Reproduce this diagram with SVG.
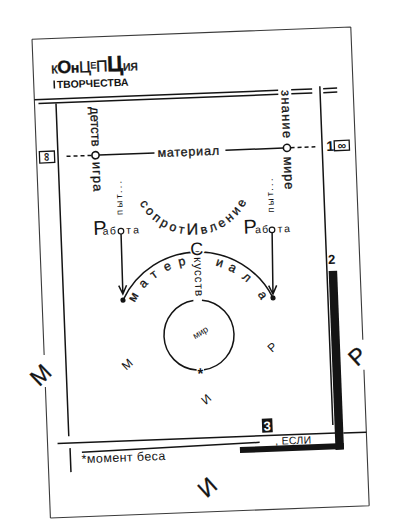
<svg xmlns="http://www.w3.org/2000/svg" width="402" height="531" viewBox="0 0 402 531">
<defs>
<style>
.f{font-family:"Liberation Sans","DejaVu Sans",Arial,sans-serif;fill:#141414}
.hv{stroke:#141414;stroke-width:0.3}
.ln{stroke:#141414;fill:none;stroke-width:1.5}
.pg{stroke:#3a3a3a;fill:none;stroke-width:1.1}
.v{font-size:13px}
.s{font-size:10.5px}
.m{font-size:12.5px}
.big{font-size:23px}
.sm{font-size:12px}
.dot{fill:#141414}
</style>
<path id="arcSopr" d="M136.23,179.27 A60.5,60.5 0 0 0 256.77,179.27"/>
</defs>
<rect width="402" height="531" fill="#fff"/>
<g transform="rotate(-2.2 200 270)">
 <g id="page">
  <path class="pg" d="M41,33H360M41,512H360M41,33V349M41,381V512M360,33V346M360,376V512"/>
  <path class="ln" d="M41,93.5H285M298,93.5H319M330,93.5H344" stroke-width="2"/>
  <path class="ln" d="M45,97.5H285M298,97.5H319M330,97.5H344" stroke-width="1.1"/>
  <path class="ln" d="M62.5,98V431M63.3,443V467M326.8,91V430" stroke-width="1.3"/>
  <path class="ln" d="M51,438H330" stroke-width="3.2"/>
  <path class="ln" d="M337,438.5H360" stroke-width="2"/>
  <rect x="328.5" y="276" width="8.5" height="179" class="dot"/>
  <rect x="233" y="448.5" width="104" height="6" class="dot"/>
  <path class="ln" d="M75,447.5L253,444.5" stroke-width="1.1"/>
 </g>
 <g id="title">
  <text class="f hv" x="59" y="68" letter-spacing="-0.4"><tspan font-size="15">к</tspan><tspan font-size="18" font-weight="bold">О</tspan><tspan font-size="14" font-weight="bold">н</tspan><tspan font-size="16">Ц</tspan><tspan font-size="9" dy="-3.5">Е</tspan><tspan font-size="16" dy="3.5">П</tspan><tspan font-size="22" font-weight="bold">Ц</tspan><tspan font-size="14">ия</tspan></text>
  <path class="ln" d="M61.5,75V83" stroke-width="1.3"/>
  <text class="f" x="64" y="83" font-size="10.5" font-weight="bold">ТВОРЧЕСТВА</text>
 </g>
 <g id="inf-left">
  <rect x="44" y="145.5" width="15" height="11.5" fill="#fff" stroke="#141414" stroke-width="1.3"/>
  <text class="f" font-size="12" font-weight="bold" text-anchor="middle" transform="translate(51.5,151.2) rotate(90)" y="4">∞</text>
 </g>
 <g id="inf-right">
  <text class="f" x="331" y="156" font-size="14" font-weight="bold">1</text>
  <rect x="339" y="146" width="15" height="10" fill="#fff" stroke="#141414" stroke-width="1.3"/>
  <text class="f" x="346.5" y="155" font-size="12" font-weight="bold" text-anchor="middle">∞</text>
 </g>
 <g id="node-detstvo">
  <text class="f v hv" transform="translate(96.6,103) rotate(90)">детств</text>
  <circle cx="100" cy="151.3" r="3.6" fill="#fff" stroke="#141414" stroke-width="1.6"/>
  <text class="f v hv" letter-spacing="1" transform="translate(96.6,158) rotate(90)">игра</text>
 </g>
 <g id="node-znanie">
  <text class="f v hv" letter-spacing="1.2" transform="translate(288,93.5) rotate(90)">знание</text>
  <circle cx="291.6" cy="151.3" r="3.6" fill="#fff" stroke="#141414" stroke-width="1.6"/>
  <text class="f v hv" letter-spacing="0.7" transform="translate(288,160) rotate(90)">мире</text>
 </g>
 <g id="label-material">
  <text class="f hv" x="162" y="155.5" font-size="12.5" letter-spacing="0.8">материал</text>
 </g>
 <g id="node-rabota-left">
  <text class="f" x="95" y="231" font-size="20">Р</text>
  <text class="f s" x="107 114.5 130 137.5" y="231" text-anchor="middle">абта</text>
  <circle cx="122.5" cy="228.2" r="2.8" fill="#fff" stroke="#141414" stroke-width="1.2"/>
  <text class="f" font-size="9.5" letter-spacing="2.2" transform="translate(125,212) rotate(-90)">пыт...</text>
 </g>
 <g id="node-rabota-right">
  <text class="f" x="245" y="235.5" font-size="20">Р</text>
  <text class="f s" x="259.6 266.6 281.6 288.6" y="235.5" text-anchor="middle">абта</text>
  <circle cx="273.5" cy="232.7" r="2.8" fill="#fff" stroke="#141414" stroke-width="1.2"/>
  <text class="f" font-size="9.5" letter-spacing="2.2" transform="translate(276.1,215.5) rotate(-90)">пыт...</text>
 </g>
 <g id="node-soprotivlenie">
  <text class="f hv" font-size="12.5" letter-spacing="3.2"><textPath href="#arcSopr" startOffset="50%" text-anchor="middle">сопрот<tspan font-size="16">И</tspan>вление</textPath></text>
 </g>
 <g id="connectors">
  <path class="ln" d="M103.6,151.3H159M230,151.3H288" stroke-width="1.6"/>
  <path class="ln" d="M71,151.3H96.4M295.2,151.3H320" stroke-width="1.6" stroke-dasharray="4 3"/>
  <path class="ln" d="M122.5,231L122,291M118.2,282.5L122,291L126,282.5" stroke-width="1.2"/>
  <path class="ln" d="M273.5,235.5L272,296.8M268,288.3L272,296.8L276,288.3" stroke-width="1.2"/>
  <path class="ln" d="M121.9,297.1A83.4,83.4 0 0 1 271.9,300.7" stroke-width="2"/>
  <circle cx="121.9" cy="297.1" r="2.6" class="dot"/>
  <circle cx="271.9" cy="300.7" r="2.6" class="dot"/>
 </g>
 <g id="node-materiala">
  <text class="f m hv" x="196" y="263.6" text-anchor="middle" transform="rotate(-57.4 196 335.3)">м</text>
  <text class="f m hv" x="196" y="263.6" text-anchor="middle" transform="rotate(-44.6 196 335.3)">а</text>
  <text class="f m hv" x="196" y="263.6" text-anchor="middle" transform="rotate(-34 196 335.3)">т</text>
  <text class="f m hv" x="196" y="263.6" text-anchor="middle" transform="rotate(-22.2 196 335.3)">е</text>
  <text class="f m hv" x="196" y="263.6" text-anchor="middle" transform="rotate(-10.5 196 335.3)">р</text>
  <text class="f m hv" x="196" y="263.6" text-anchor="middle" transform="rotate(18.5 196 335.3)">и</text>
  <text class="f m hv" x="196" y="263.6" text-anchor="middle" transform="rotate(29 196 335.3)">а</text>
  <text class="f m hv" x="196" y="263.6" text-anchor="middle" transform="rotate(41.9 196 335.3)">л</text>
  <text class="f m hv" x="196" y="263.6" text-anchor="middle" transform="rotate(60.1 196 335.3)">а</text>
 </g>
 <g id="node-iskusstvo">
  <text class="f" x="197.6" y="255" font-size="18" text-anchor="middle" stroke="#fff" stroke-width="3" paint-order="stroke">С</text>
  <text class="f" font-size="12" letter-spacing="0.8" transform="translate(194.6,257) rotate(90)">кусств</text>
 </g>
 <g id="node-mir">
  <path class="ln" d="M200.77,300.26A35,35 0 0 1 200.16,369.81M192.84,369.81A35,35 0 0 1 192.23,300.26" stroke-width="1.8"/>
  <text class="f" font-size="9" text-anchor="middle" transform="translate(198,332.5) rotate(-28)" y="3">мир</text>
  <text class="f" x="196.5" y="378.5" font-size="15" font-weight="bold" text-anchor="middle">*</text>
 </g>
 <g id="letters-small">
  <text class="f sm" text-anchor="middle" transform="translate(123.4,361.2) rotate(-40)" y="4.3">М</text>
  <text class="f sm" text-anchor="middle" transform="translate(269,349.8) rotate(-40)" y="4.3">Р</text>
  <text class="f sm" text-anchor="middle" transform="translate(201,399.2) rotate(-40)" y="4.3">И</text>
 </g>
 <g id="letters-big">
  <text class="f big hv" text-anchor="middle" transform="translate(36.5,368.4) rotate(-42)" y="8.2">М</text>
  <text class="f big hv" text-anchor="middle" transform="translate(353.7,362) rotate(-40)" y="8.2">Р</text>
  <text class="f big hv" text-anchor="middle" transform="translate(198.7,487.3) rotate(-40)" y="8.2">И</text>
 </g>
 <g id="labels-corner">
  <text class="f" x="332" y="269" font-size="13" font-weight="bold" text-anchor="middle">2</text>
  <rect x="256" y="421" width="10.5" height="14" class="dot"/>
  <text x="261.2" y="433" font-size="13" font-weight="bold" text-anchor="middle" font-family="Liberation Sans, sans-serif" fill="#fff">3</text>
  <text class="f" x="268.5" y="447.5" font-size="10.5" letter-spacing="0.3">, ЕСЛИ</text>
  <text class="f" x="74.5" y="458.5" font-size="12.5" letter-spacing="0.4">*момент беса</text>
 </g>
</g>
</svg>
